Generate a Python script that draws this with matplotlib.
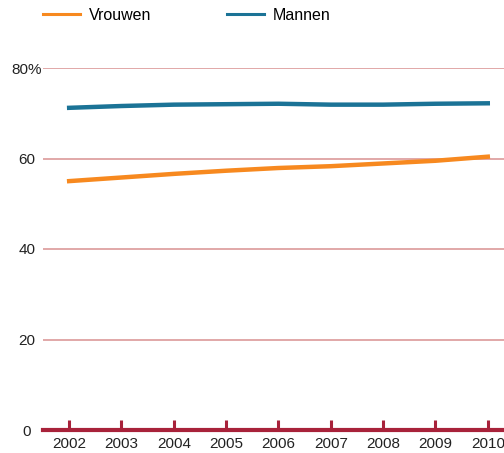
import numpy as np
import matplotlib.pyplot as plt

plt.rcParams['font.family'] = ['Liberation Sans', 'DejaVu Sans']

years = [2002, 2003, 2004, 2005, 2006, 2007, 2008, 2009, 2010]
vrouwen = [55.0, 55.8, 56.6, 57.3, 57.9, 58.3, 58.9, 59.5, 60.4]
mannen = [71.2, 71.6, 71.9, 72.0, 72.1, 71.9, 71.9, 72.1, 72.2]
yticks = [0, 20, 40, 60, 80]
ylabels = ['0', '20', '40', '60', '80%']

W, H = 504, 453
fig = plt.figure(figsize=(W / 100, H / 100), dpi=100)
ax = fig.add_axes([43 / W, (H - 430) / H, 1 - 43 / W, (430 - 68) / H])

grid_col = '#dc9a9a'
axis_col = '#a8223a'

for v in yticks[1:]:
    ax.axhline(v, color=grid_col, lw=1.2, zorder=1)

l1, = ax.plot(years, vrouwen, color='#f7891f', lw=3.2, zorder=3)
l2, = ax.plot(years, mannen, color='#1b7396', lw=3.2, zorder=3)

ax.set_xlim(2001.5, 2010.31)
ax.set_ylim(0, 80)
ax.set_xticks(years)
ax.set_yticks(yticks)
ax.set_yticklabels(ylabels, ha='center')

for s in ['top', 'right', 'left']:
    ax.spines[s].set_visible(False)
ax.spines['bottom'].set_color(axis_col)
ax.spines['bottom'].set_linewidth(3)
ax.spines['bottom'].set_zorder(4)

ax.tick_params(axis='x', direction='in', length=7, width=2.2, color=axis_col,
               labelsize=11, labelcolor='#222222', pad=5)
ax.tick_params(axis='y', length=0, labelsize=11, labelcolor='#222222', pad=11.5)

# legend handles: thinner lines than the plot
h1 = plt.Line2D([], [], color='#f7891f', lw=2.2)
h2 = plt.Line2D([], [], color='#1b7396', lw=2.2)
fig.legend(handles=[h1, h2], labels=['Vrouwen', 'Mannen'], loc='upper left',
           bbox_to_anchor=(43 / W, 1 - 8 / H), ncol=2, frameon=False,
           fontsize=11.5, handlelength=2.3, handletextpad=0.56,
           columnspacing=4.75, borderpad=0, borderaxespad=0)

fig.savefig('out.png', dpi=100)
